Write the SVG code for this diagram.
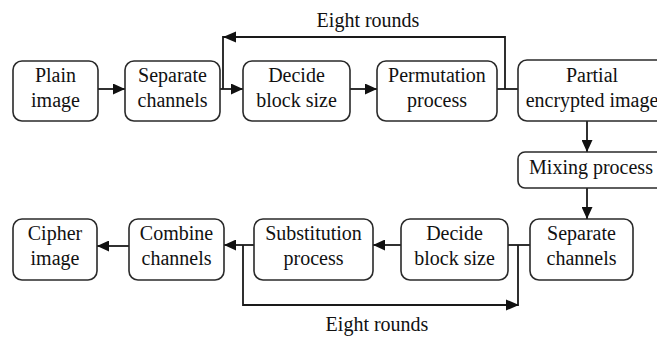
<svg xmlns="http://www.w3.org/2000/svg" width="657" height="339" viewBox="0 0 657 339">
  <style>
    .box { fill: #ffffff; stroke: #2a2a2a; stroke-width: 1.6; }
    .lbl { font-family: 'Times New Roman', Times, Tinos, 'Liberation Serif', 'Noto Serif', 'DejaVu Serif', serif; font-size: 20px; fill: #111; text-anchor: middle; }
    .wire { fill: none; stroke: #1a1a1a; stroke-width: 1.8; }
    .head { fill: #111; }
  </style>
  <defs>
    <marker id="arr" viewBox="0 0 12 11" refX="12" refY="5.5" markerWidth="12" markerHeight="11" markerUnits="userSpaceOnUse" orient="auto">
      <path d="M0,0 L12,5.5 L0,11 Z" class="head"/>
    </marker>
  </defs>
  <rect width="657" height="339" fill="#ffffff"/>

  <!-- connectors -->
  <g id="connectors">
    <!-- top row -->
    <line class="wire" x1="98" y1="89" x2="125" y2="89" marker-end="url(#arr)"/>
    <line class="wire" x1="220" y1="89" x2="243" y2="89" marker-end="url(#arr)"/>
    <line class="wire" x1="350" y1="89" x2="377" y2="89" marker-end="url(#arr)"/>
    <line class="wire" x1="497" y1="89" x2="518" y2="89"/>
    <!-- upper loop back to channel split -->
    <path class="wire" d="M505,89 V37 H223 V89"/>
    <path class="head" d="M223,37 L236,31.5 L236,42.5 Z"/>
    <!-- vertical flow on the right -->
    <line class="wire" x1="587" y1="121" x2="587" y2="152" marker-end="url(#arr)"/>
    <line class="wire" x1="587" y1="188" x2="587" y2="219" marker-end="url(#arr)"/>
    <!-- bottom row -->
    <line class="wire" x1="530" y1="245" x2="508" y2="245"/>
    <line class="wire" x1="401" y1="245" x2="373" y2="245" marker-end="url(#arr)"/>
    <line class="wire" x1="254" y1="245" x2="224" y2="245" marker-end="url(#arr)"/>
    <line class="wire" x1="129" y1="246" x2="97" y2="246" marker-end="url(#arr)"/>
    <!-- lower loop -->
    <path class="wire" d="M518,245 V305 H243 V245"/>
    <path class="head" d="M519,305 L506,299.5 L506,310.5 Z"/>
  </g>

  <!-- loop labels -->
  <text class="lbl" x="368" y="27">Eight rounds</text>
  <text class="lbl" x="377" y="331">Eight rounds</text>

  <!-- top row nodes -->
  <g id="plain-image">
    <rect class="box" x="13" y="61" width="85" height="60" rx="9"/>
    <text class="lbl" x="55.5" y="82">Plain</text>
    <text class="lbl" x="55.5" y="107">image</text>
  </g>
  <g id="separate-channels-1">
    <rect class="box" x="125" y="61" width="95" height="60" rx="9"/>
    <text class="lbl" x="172.5" y="82">Separate</text>
    <text class="lbl" x="172.5" y="107">channels</text>
  </g>
  <g id="decide-block-size-1">
    <rect class="box" x="243" y="61" width="107" height="60" rx="9"/>
    <text class="lbl" x="296.5" y="82">Decide</text>
    <text class="lbl" x="296.5" y="107">block size</text>
  </g>
  <g id="permutation-process">
    <rect class="box" x="377" y="61" width="120" height="60" rx="9"/>
    <text class="lbl" x="437" y="82">Permutation</text>
    <text class="lbl" x="437" y="107">process</text>
  </g>
  <g id="partial-encrypted-image">
    <rect class="box" x="518" y="60" width="150" height="61" rx="9"/>
    <text class="lbl" x="592" y="82">Partial</text>
    <text class="lbl" x="592" y="107">encrypted image</text>
  </g>

  <!-- mixing step -->
  <g id="mixing-process">
    <rect class="box" x="518" y="152" width="150" height="36" rx="7"/>
    <text class="lbl" x="591" y="174">Mixing process</text>
  </g>

  <!-- bottom row nodes -->
  <g id="separate-channels-2">
    <rect class="box" x="530" y="219" width="103" height="61" rx="9"/>
    <text class="lbl" x="581.5" y="240">Separate</text>
    <text class="lbl" x="581.5" y="265">channels</text>
  </g>
  <g id="decide-block-size-2">
    <rect class="box" x="401" y="219" width="107" height="61" rx="9"/>
    <text class="lbl" x="454.5" y="240">Decide</text>
    <text class="lbl" x="454.5" y="265">block size</text>
  </g>
  <g id="substitution-process">
    <rect class="box" x="254" y="219" width="119" height="61" rx="9"/>
    <text class="lbl" x="313.5" y="240">Substitution</text>
    <text class="lbl" x="313.5" y="265">process</text>
  </g>
  <g id="combine-channels">
    <rect class="box" x="129" y="219" width="95" height="61" rx="9"/>
    <text class="lbl" x="176.5" y="240">Combine</text>
    <text class="lbl" x="176.5" y="265">channels</text>
  </g>
  <g id="cipher-image">
    <rect class="box" x="13" y="219" width="84" height="61" rx="9"/>
    <text class="lbl" x="55" y="240">Cipher</text>
    <text class="lbl" x="55" y="265">image</text>
  </g>
</svg>
